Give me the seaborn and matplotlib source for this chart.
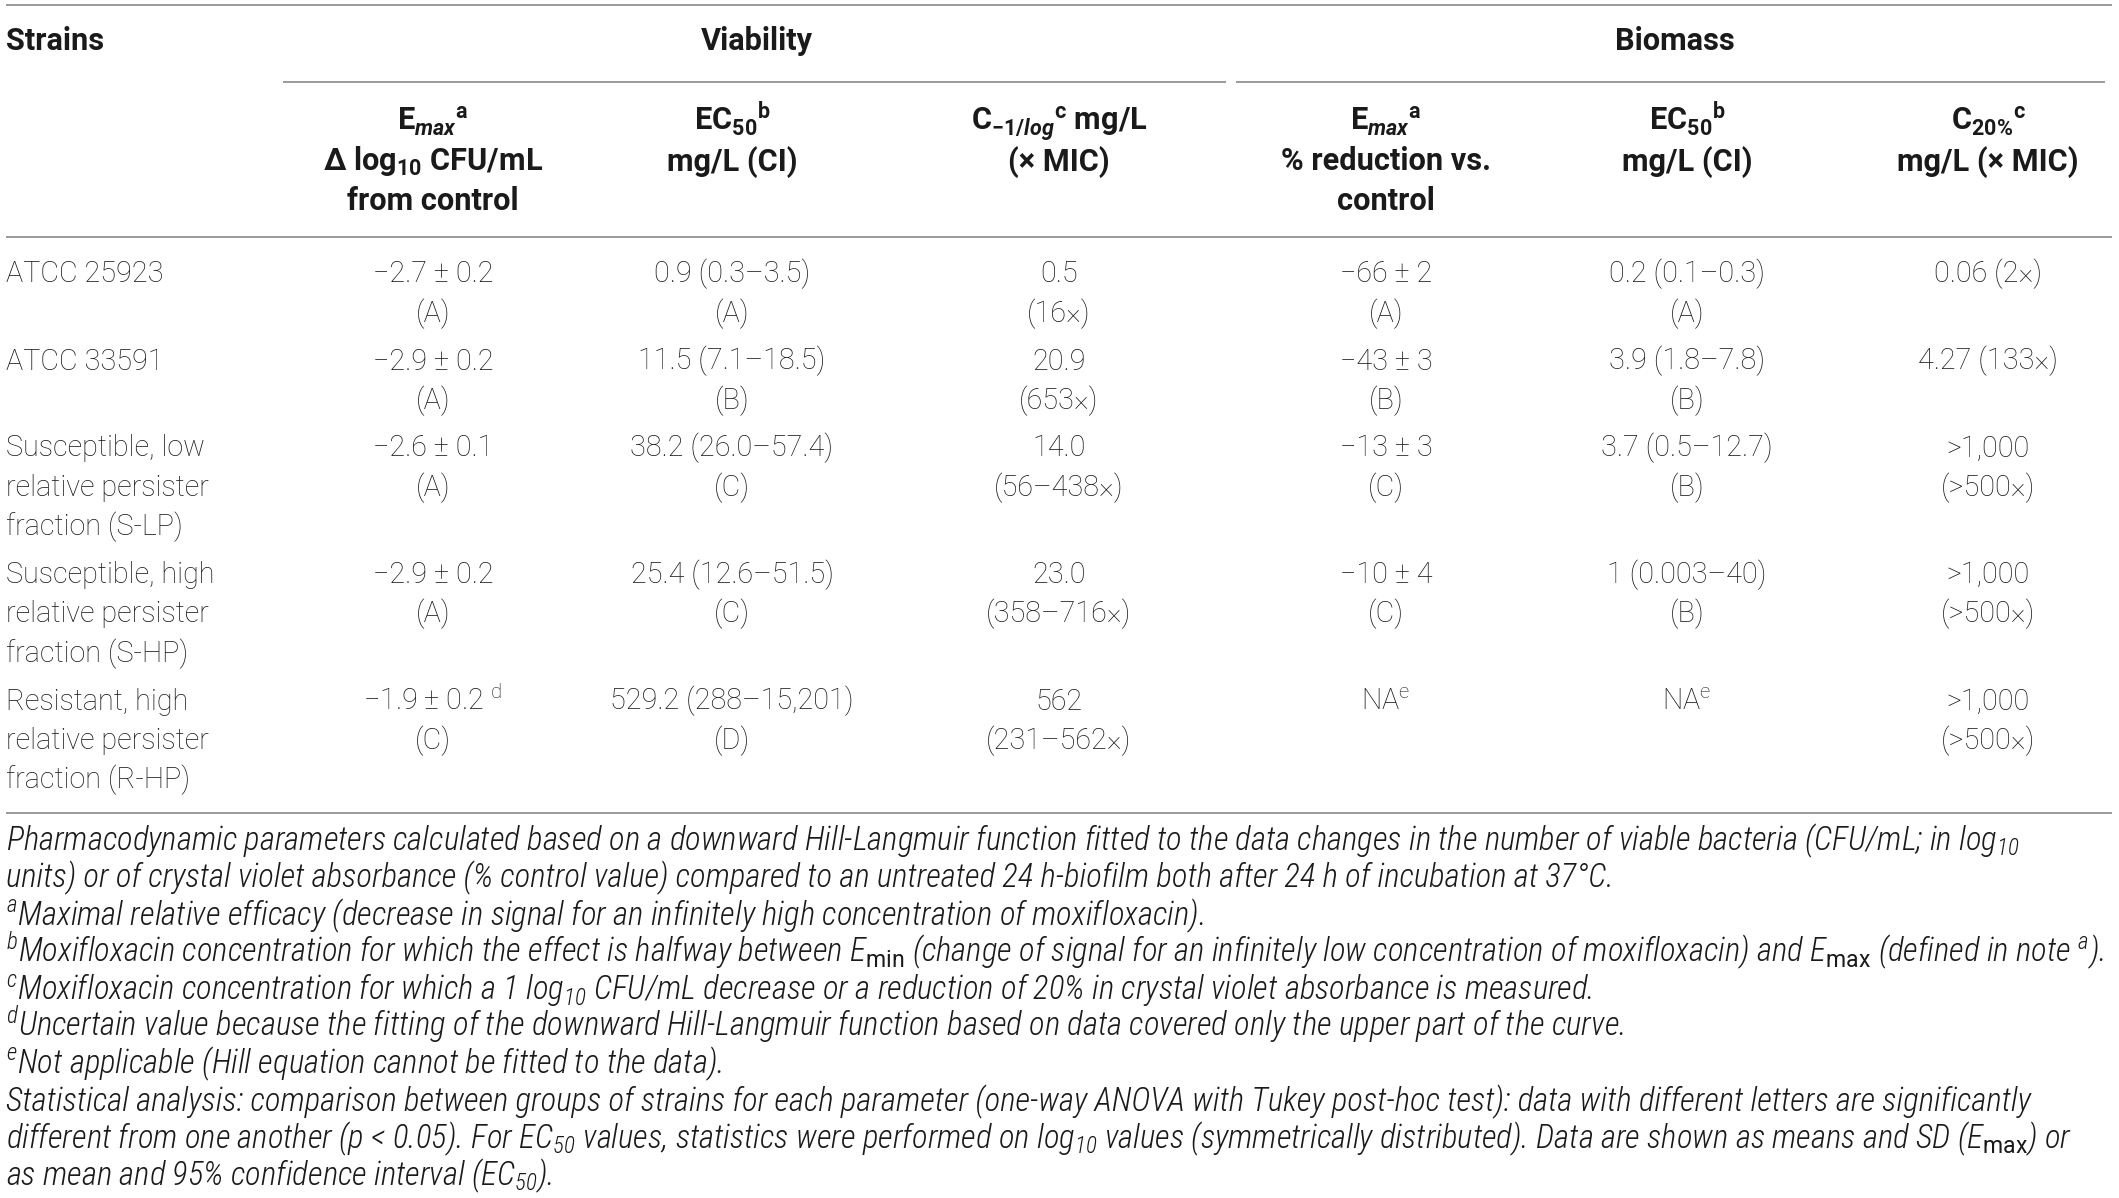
import numpy as np
import pandas as pd
import seaborn as sns
from matplotlib import pyplot as plt
from matplotlib import font_manager as fm


def pick_font(names):
    for name in names:
        try:
            fm.findfont(fm.FontProperties(family=name), fallback_to_default=False)
            return name
        except ValueError:
            pass
    return "DejaVu Sans"


strains = ["ATCC 25923", "ATCC 33591",
           "Susceptible, low\nrelative persister\nfraction (S-LP)",
           "Susceptible, high\nrelative persister\nfraction (S-HP)",
           "Resistant, high\nrelative persister\nfraction (R-HP)"]
via_emax = ["−2.7 ± 0.2", "−2.9 ± 0.2", "−2.6 ± 0.1", "−2.9 ± 0.2", "−1.9 ± 0.2 $^{d}$"]
via_emax_grp = ["(A)", "(A)", "(A)", "(A)", "(C)"]
via_ec50 = ["0.9 (0.3–3.5)", "11.5 (7.1–18.5)", "38.2 (26.0–57.4)", "25.4 (12.6–51.5)", "529.2 (288–15,201)"]
via_ec50_grp = ["(A)", "(B)", "(C)", "(C)", "(D)"]
via_c1log = ["0.5", "20.9", "14.0", "23.0", "562"]
via_c1log_mic = ["(16×)", "(653×)", "(56–438×)", "(358–716×)", "(231–562×)"]
bio_emax = ["−66 ± 2", "−43 ± 3", "−13 ± 3", "−10 ± 4", "NA$^{e}$"]
bio_emax_grp = ["(A)", "(B)", "(C)", "(C)", ""]
bio_ec50 = ["0.2 (0.1–0.3)", "3.9 (1.8–7.8)", "3.7 (0.5–12.7)", "1 (0.003–40)", "NA$^{e}$"]
bio_ec50_grp = ["(A)", "(B)", "(B)", "(B)", ""]
bio_c20 = ["0.06 (2×)", "4.27 (133×)", ">1,000", ">1,000", ">1,000"]
bio_c20_mic = ["", "", "(>500×)", "(>500×)", "(>500×)"]

group_titles = ["Viability", "Biomass"]
col_headers = [
    ["E$_{\\mathit{max}}$$^{a}$", "Δ log$_{10}$ CFU/mL", "from control"],
    ["EC$_{50}$$^{b}$", "mg/L (CI)"],
    ["C$_{-1/\\mathit{log}}$$^{c}$ mg/L", "(× MIC)"],
    ["E$_{\\mathit{max}}$$^{a}$", "% reduction vs.", "control"],
    ["EC$_{50}$$^{b}$", "mg/L (CI)"],
    ["C$_{20\\%}$$^{c}$", "mg/L (× MIC)"],
]
footnotes = [
    "Pharmacodynamic parameters calculated based on a downward Hill-Langmuir function fitted to the data changes in the number of viable bacteria (CFU/mL; in log$_{10}$",
    "units) or of crystal violet absorbance (% control value) compared to an untreated 24 h-biofilm both after 24 h of incubation at 37°C.",
    "$^{a}$Maximal relative efficacy (decrease in signal for an infinitely high concentration of moxifloxacin).",
    "$^{b}$Moxifloxacin concentration for which the effect is halfway between E$_{\\mathrm{min}}$ (change of signal for an infinitely low concentration of moxifloxacin) and E$_{\\mathrm{max}}$ (defined in note $^{a}$).",
    "$^{c}$Moxifloxacin concentration for which a 1 log$_{10}$ CFU/mL decrease or a reduction of 20% in crystal violet absorbance is measured.",
    "$^{d}$Uncertain value because the fitting of the downward Hill-Langmuir function based on data covered only the upper part of the curve.",
    "$^{e}$Not applicable (Hill equation cannot be fitted to the data).",
    "Statistical analysis: comparison between groups of strains for each parameter (one-way ANOVA with Tukey post-hoc test): data with different letters are significantly",
    "different from one another (p < 0.05). For EC$_{50}$ values, statistics were performed on log$_{10}$ values (symmetrically distributed). Data are shown as means and SD (E$_{\\mathrm{max}}$) or",
    "as mean and 95% confidence interval (EC$_{50}$).",
]

df = pd.DataFrame({
    "strain": strains,
    "via_emax": [a + "\n" + b for a, b in zip(via_emax, via_emax_grp)],
    "via_ec50": [a + "\n" + b for a, b in zip(via_ec50, via_ec50_grp)],
    "via_c1log": [a + "\n" + b for a, b in zip(via_c1log, via_c1log_mic)],
    "bio_emax": [a + "\n" + b for a, b in zip(bio_emax, bio_emax_grp)],
    "bio_ec50": [a + "\n" + b for a, b in zip(bio_ec50, bio_ec50_grp)],
    "bio_c20": [a + "\n" + b for a, b in zip(bio_c20, bio_c20_mic)],
})

sns.set_theme(style="white")
body_font = pick_font(["Roboto", "Liberation Sans", "DejaVu Sans"])
note_font = pick_font(["Roboto Condensed", "Liberation Sans Narrow", "Roboto"])
plt.rcParams["font.family"] = [body_font, "DejaVu Sans"]
plt.rcParams["mathtext.fontset"] = "custom"
plt.rcParams["mathtext.default"] = "regular"
plt.rcParams["mathtext.rm"] = body_font
plt.rcParams["mathtext.it"] = body_font + ":italic:bold"
plt.rcParams["mathtext.bf"] = body_font + ":bold"

ink = "#1a1a1a"
rule = "#9a9a9a"

fig = plt.figure(figsize=(21.19, 11.98), dpi=100)
ax = fig.add_axes([0, 0, 1, 1])
ax.set_xlim(0, 2119)
ax.set_ylim(1198, 0)
ax.axis("off")
renderer = fig.canvas.get_renderer()


def fit_size(lines, target, **kw):
    # font size at which the widest of `lines` is `target` pixels wide
    widest = 0
    for line in lines:
        probe = ax.text(0, 0, line, fontsize=20, **kw)
        widest = max(widest, probe.get_window_extent(renderer).width)
        probe.remove()
    return 20 * target / widest


body_kw = dict(fontweight="light")
head_kw = dict(fontweight="bold")
note_kw = dict(fontstyle="italic", fontweight="light", family=[note_font, "DejaVu Sans"])

body_size = fit_size(["relative persister"], 203, **body_kw)
head_size = fit_size(["Δ log$_{10}$ CFU/mL"], 220, **head_kw)

left = 6
right = 2112
col_x = [433, 732, 1059, 1386, 1687, 1988]
group_x = [757, 1675]
group_span = [(283, 1226), (1236, 2105)]

# rules
for y in [5, 237, 813]:
    ax.plot([left, right], [y, y], color=rule, lw=1.4, solid_capstyle="butt")
for x0, x1 in group_span:
    ax.plot([x0, x1], [82, 82], color=rule, lw=1.4, solid_capstyle="butt")

cap = 7.5  # half cap height in px, center -> baseline

# header
ax.text(left, 42 + cap, "Strains", ha="left", va="baseline", fontsize=head_size,
        color=ink, **head_kw)
for title, gx in zip(group_titles, group_x):
    ax.text(gx, 42 + cap, title, ha="center", va="baseline", fontsize=head_size,
            color=ink, **head_kw)
for lines, cx in zip(col_headers, col_x):
    for i, line in enumerate(lines):
        ax.text(cx, 123 + i * 40 + cap, line, ha="center", va="baseline",
                fontsize=head_size, color=ink, **head_kw)

# body rows
pitch = 39.5
y0 = 275
cols = ["via_emax", "via_ec50", "via_c1log", "bio_emax", "bio_ec50", "bio_c20"]
for _, row in df.iterrows():
    strain_lines = row["strain"].split("\n")
    n = max(len(strain_lines), max(len(row[c].split("\n")) for c in cols))
    for i, line in enumerate(strain_lines):
        ax.text(left, y0 + i * pitch + cap, line, ha="left", va="baseline",
                fontsize=body_size, color=ink, **body_kw)
    for c, cx in zip(cols, col_x):
        for i, line in enumerate(row[c].split("\n")):
            if line:
                ax.text(cx, y0 + i * pitch + cap, line, ha="center", va="baseline",
                        fontsize=body_size, color=ink, **body_kw)
    y0 += n * pitch + 8

# footnotes, size fitted so the widest line just fills the table width
note_size = fit_size(footnotes, 2106 - left, **note_kw)
for i, line in enumerate(footnotes):
    ax.text(left, 843 + i * 37.2 + cap, line, ha="left", va="baseline",
            fontsize=note_size, color=ink, **note_kw)

fig.savefig("out.png", dpi=100, facecolor="white")
